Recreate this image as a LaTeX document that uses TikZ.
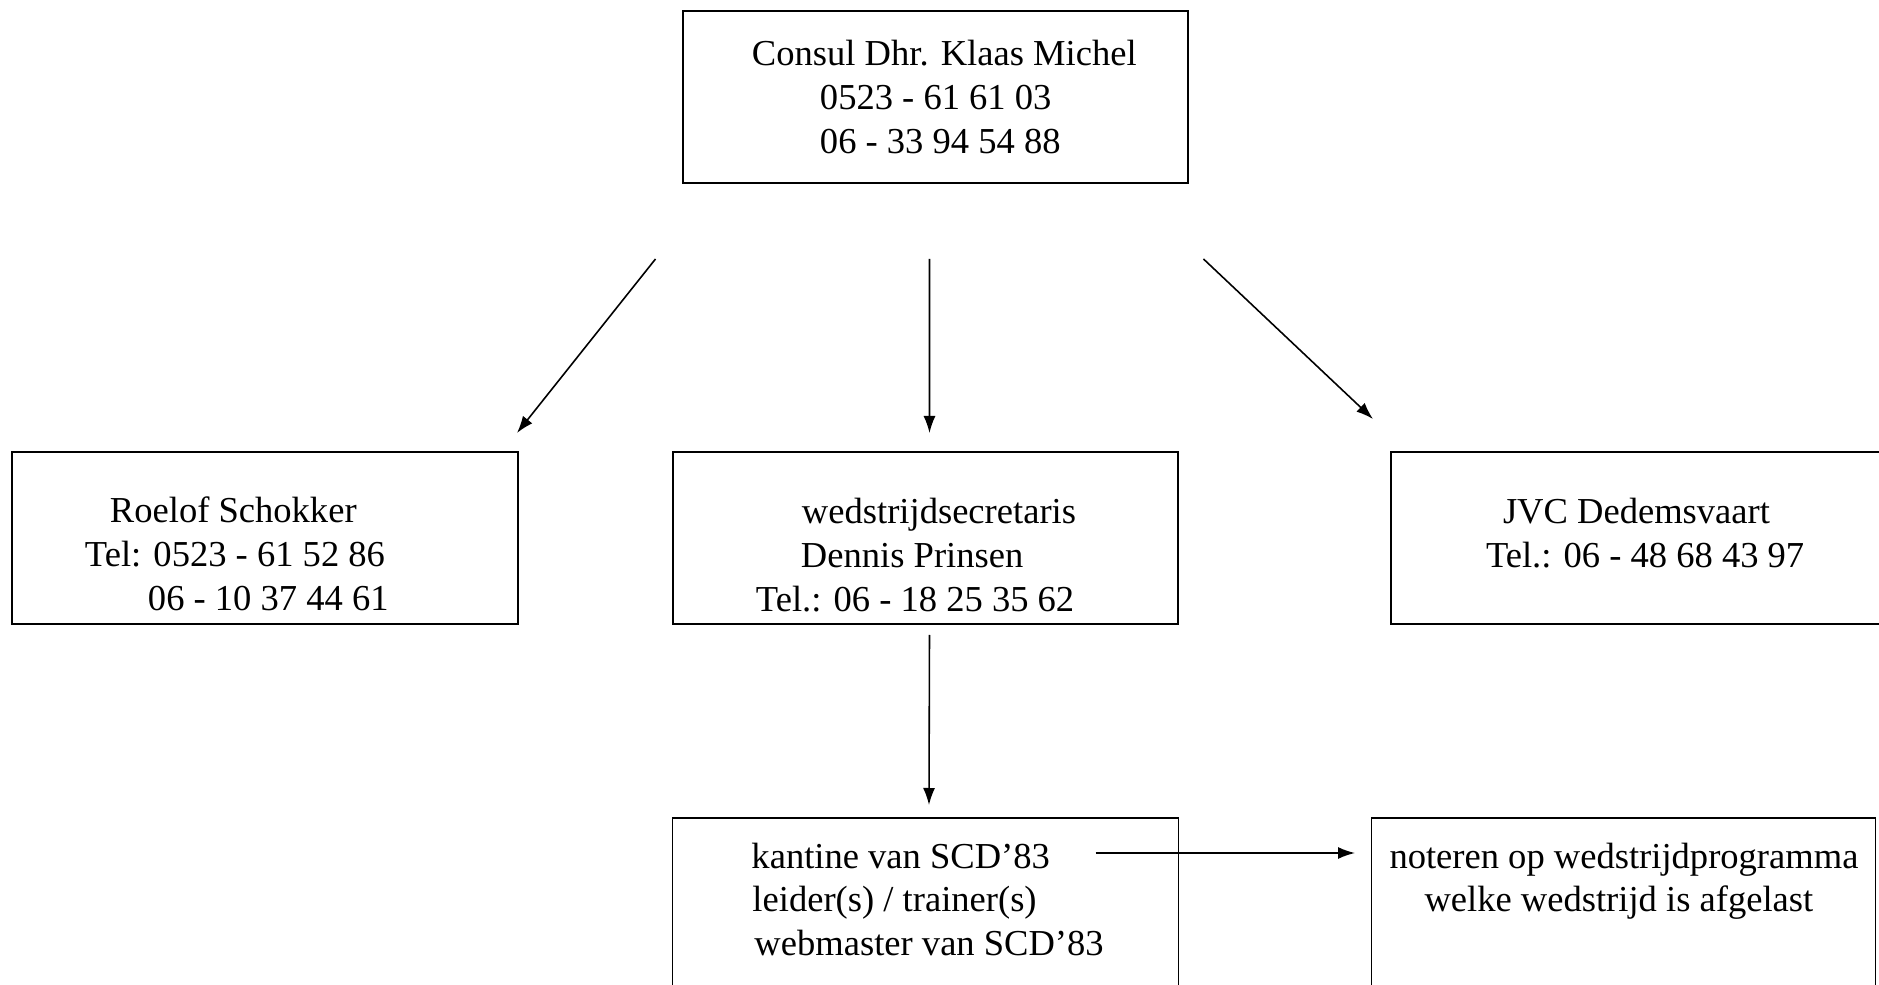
\documentclass[tikz,border=0pt]{standalone}
\usepackage{fontspec}
\setmainfont{Liberation Serif}
\usetikzlibrary{arrows.meta}
\newcommand{\boxtext}[4]{\parbox[c][#2][t]{#1}{\rule{0pt}{#3}#4}}
\tikzstyle{box} = [rectangle, draw=black, line width=1.1pt, inner sep=0pt, outer sep=0pt, font=\fontsize{20.8pt}{24.9pt}\selectfont]
\tikzstyle{arrow} = [line width=0.9pt, -{Latex[length=0.34cm, width=0.24cm]}]

\begin{document}
\begin{tikzpicture}[node distance=8.82cm]
		\useasboundingbox (-18.71,1.94) rectangle (18.87,-17.76);
		\node (consul) [box] {\boxtext{10.1cm}{3.44cm}{1.09cm}{\hspace*{1.38cm}Consul Dhr. Klaas Michel\\\hspace*{2.74cm}0523 - 61 61 03\\\hspace*{2.74cm}06 - 33 94 54 88}};
		\node (wed) [box, below of=consul, xshift=-0.2cm] {\boxtext{10.1cm}{3.44cm}{1.44cm}{\hspace*{2.58cm}wedstrijdsecretaris\\\hspace*{2.56cm}Dennis Prinsen\\\hspace*{1.66cm}Tel.: 06 - 18 25 35 62}};
		\node (roelof) [box, left of=wed, xshift=-4.39cm] {\boxtext{10.12cm}{3.44cm}{1.42cm}{\hspace*{1.96cm}Roelof Schokker\\\hspace*{1.46cm}Tel: 0523 - 61 52 86\\\hspace*{2.72cm}06 - 10 37 44 61}};
		\node (jvc) [box, right of=wed, xshift=5.43cm] {\boxtext{9.88cm}{3.44cm}{1.44cm}{\hspace*{2.24cm}JVC Dedemsvaart\\\hspace*{1.9cm}Tel.: 06 - 48 68 43 97}};
		\node (kantine) [box, below of=wed, yshift=1.52cm] {\boxtext{10.12cm}{3.4cm}{1.0cm}{\hspace*{1.58cm}kantine van SCD’83\\\hspace*{1.6cm}leider(s) / trainer(s)\\\hspace*{1.64cm}webmaster van SCD’83}};
		\node (noteren) [box, right of=kantine, xshift=5.14cm] {\boxtext{10.08cm}{3.4cm}{1.0cm}{\hspace*{0.36cm}noteren op wedstrijdprogramma\\\hspace*{1.06cm}welke wedstrijd is afgelast}};
		\coordinate (s1) at ([xshift=-5.6cm, yshift=-1.52cm]consul.south);
		\coordinate (e1) at ([xshift=5.04cm, yshift=0.38cm]roelof.north);
		\coordinate (s2) at ([xshift=-0.12cm, yshift=-1.52cm]consul.south);
		\coordinate (e2) at ([xshift=0.08cm, yshift=0.38cm]wed.north);
		\coordinate (s3) at ([xshift=5.36cm, yshift=-1.52cm]consul.south);
		\coordinate (e3) at ([xshift=-5.3cm, yshift=0.66cm]jvc.north);
		\coordinate (s4) at ([xshift=0.08cm, yshift=-0.22cm]wed.south);
		\coordinate (e4) at ([xshift=0.07cm, yshift=0.26cm]kantine.north);
		\coordinate (s5) at ([xshift=-1.66cm, yshift=1.0cm]kantine.east);
		\coordinate (e5) at ([xshift=-0.33cm, yshift=1.0cm]noteren.west);
		\draw [arrow] (s1) -- (e1);
		\draw [arrow] (s2) -- (e2);
		\draw [arrow] (s3) -- (e3);
		\draw [arrow] (s4) -- (e4);
		\draw [arrow] (s5) -- (e5);
\end{tikzpicture}
\end{document}
